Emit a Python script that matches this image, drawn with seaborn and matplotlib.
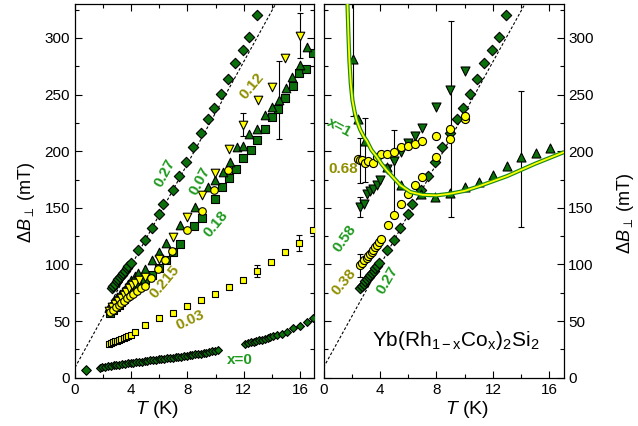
import matplotlib
matplotlib.use("Agg")
import matplotlib.pyplot as plt
import seaborn as sns
import numpy as np
from matplotlib.ticker import MultipleLocator

sns.set_theme(style="ticks")
plt.rcParams['font.family'] = ['Liberation Sans', 'DejaVu Sans']
plt.rcParams['mathtext.fontset'] = 'custom'
plt.rcParams['mathtext.rm'] = 'Liberation Sans'
plt.rcParams['mathtext.it'] = 'Liberation Sans:italic'
plt.rcParams['mathtext.bf'] = 'Liberation Sans:bold'

# ---------------- data (T in K, dB in mT) ----------------
x0_T = [0.75, 1.75, 1.95, 2.15, 2.35, 2.55, 2.75, 2.95, 3.15, 3.35, 3.55, 3.75, 3.95, 4.15, 4.35,
        4.55, 4.75, 4.95, 5.15, 5.35, 5.55, 5.75, 5.95, 6.15, 6.35, 6.55, 6.75, 6.95, 7.15, 7.35,
        7.55, 7.75, 7.95, 8.15, 8.35, 8.55, 8.75, 8.95, 9.15, 9.35, 9.55, 9.75, 9.95, 10.15,
        12.1, 12.3, 12.5, 12.7, 12.9, 13.1, 13.3, 13.5, 13.7, 13.9, 14.1, 14.4, 14.7, 15.05,
        15.5, 16.0, 16.5, 16.9]
x0_B = [6.8, 8.8, 9.2, 9.6, 10.0, 10.4, 10.8, 11.2, 11.5, 11.9, 12.2, 12.6, 13.0, 13.3, 13.6,
        13.9, 14.2, 14.6, 14.9, 15.2, 15.5, 15.8, 16.1, 16.4, 16.7, 17.0, 17.3, 17.6, 17.9, 18.2,
        18.6, 18.9, 19.3, 19.7, 20.1, 20.5, 20.9, 21.3, 21.8, 22.2, 22.7, 23.2, 23.7, 24.3,
        30.0, 30.6, 31.2, 31.8, 32.4, 33.0, 33.7, 34.4, 35.1, 35.8, 36.5, 37.5, 38.8, 40.5,
        43.5, 45.8, 49.3, 52.3]

s003_T = [2.4, 2.55, 2.7, 2.85, 3.0, 3.15, 3.3, 3.45, 3.6, 3.8, 4.0, 4.3, 4.97, 5.97, 6.99, 7.98,
          8.96, 9.97, 10.97, 11.96, 12.96, 13.95, 14.95, 15.94, 16.9]
s003_B = [29.6, 30.5, 31.3, 32.0, 32.8, 33.6, 34.3, 35.0, 35.8, 36.8, 38.0, 40.5, 46.4, 52.3, 57.3,
          63.2, 69.0, 74.3, 80.2, 86.7, 94.3, 102.0, 110.7, 119.0, 130.0]

s007_T = [2.4, 2.6, 2.8, 3.0, 3.2, 3.4, 3.6, 3.8, 4.0, 4.25, 4.5, 4.97, 5.45, 5.97, 6.47, 7.46,
          8.53, 9.48, 9.95, 10.5, 11.0, 11.5, 11.96, 12.4, 12.96, 13.5, 13.98, 14.5, 15.0, 15.47,
          16.0, 16.47]
s007_B = [62.6, 65.5, 68.5, 71.5, 74, 77, 80, 83, 86, 89.5, 92.5, 96.4, 103.7, 111, 119.3, 134.5,
          150.7, 168.3, 174.2, 181.5, 190.3, 203.5, 205, 215.3, 219.7, 232, 239.4, 245.5, 255.9,
          265.2, 276, 291.6]

s012_T = [2.45, 2.65, 2.85, 3.05, 3.25, 3.45, 3.65, 3.85, 4.05, 4.3, 4.55, 4.97, 5.97, 6.99, 7.94,
          9.0, 9.95, 10.97, 11.96, 13.03, 14.0, 14.97, 16.0]
s012_B = [59, 62, 65, 68, 70.5, 73, 76, 79, 81.5, 84, 86.5, 89, 105.2, 124.2, 141.9, 161, 180.6,
          202, 223.5, 245.3, 257, 282, 302]

s018_T = [2.5, 2.7, 2.9, 3.1, 3.3, 3.5, 3.7, 3.9, 4.1, 4.4, 4.97, 5.45, 5.97, 6.47, 6.99, 7.46,
          8.45, 9.0, 9.95, 10.47, 10.97, 11.44, 11.96, 12.49, 12.96, 13.48, 14.0, 14.47, 14.97,
          15.49, 15.94, 16.46, 16.94]
s018_B = [57, 59.5, 62, 64.5, 67, 69.5, 72, 74.5, 77, 80, 86, 91, 97, 104.3, 111, 117.8, 134,
          141.3, 158, 168.3, 176.6, 184.5, 194.2, 201.5, 210, 219.7, 230, 237, 247, 257.6, 268.7,
          272.6, 286.3]

s0215_T = [2.5, 2.7, 2.9, 3.1, 3.3, 3.5, 3.7, 3.9, 4.1, 4.4, 4.7, 4.97, 5.38, 5.88, 6.4, 6.92,
           7.94, 9.0, 9.88, 10.9]
s0215_B = [58, 60, 62, 64, 66, 68, 70, 72, 74, 76.5, 79, 80.8, 88.1, 95.8, 104.3, 111.6, 130,
           147, 165.4, 183.6]

s027_T = [2.6, 2.72, 2.84, 2.96, 3.08, 3.2, 3.32, 3.44, 3.56, 3.68, 3.8, 3.95, 4.5, 4.97, 5.45,
          5.97, 6.28, 6.94, 7.39, 7.89, 8.41, 8.93, 9.43, 9.9, 10.38, 10.9, 11.4, 11.92, 12.4, 12.96]
s027_B = [79, 81, 83, 85, 87, 88.5, 90.5, 92.5, 94.5, 96.5, 98.5, 101, 112.5, 122, 132, 144.8,
          153, 166, 177.7, 190.7, 204, 215.9, 228.2, 237.9, 250.2, 263.8, 278, 289.3, 301, 320.4]

s038_T = [2.6, 2.75, 2.9, 3.05, 3.18, 3.3, 3.42, 3.54, 3.66, 3.78, 3.9, 4.06, 4.56, 5.01, 5.5,
          5.98, 6.45, 6.98, 7.97, 8.99, 9.99]
s038_B = [99.3, 101.5, 103.7, 105.5, 107.2, 109, 111, 113, 115.4, 117.5, 119.8, 122.2, 135.1,
          144, 153, 161.9, 169.8, 177, 194.7, 211, 228.5]

s058_T = [2.6, 2.9, 3.07, 3.3, 3.54, 3.78, 4.0, 4.53, 5.01, 5.5, 5.98, 6.45, 6.98, 7.97, 8.99, 9.99]
s058_B = [150.7, 153.6, 162.5, 164.8, 166.9, 170.4, 175, 184.5, 191.8, 199, 207, 213.8, 220.6,
          239.4, 254, 271]

s068_T = [2.47, 2.6, 2.71, 2.95, 3.18, 3.54, 3.78, 4.09, 4.49, 5.01, 5.5, 5.98, 6.45, 6.98, 7.97,
          8.99, 9.99]
s068_B = [193.3, 192, 192.4, 189.4, 191.8, 189.4, 194.7, 197.7, 197.7, 199, 203.5, 205, 206.5,
          209.4, 213.8, 219.7, 231.5]

s1_T = [2.12, 2.43, 2.95, 4.49, 5.5, 6.93, 7.92, 8.99, 10.0, 11.0, 12.0, 13.02, 14.0, 15.03, 16.03]
s1_B = [281.4, 228.5, 209.4, 186, 169.8, 162.5, 160, 163, 168.3, 172.7, 178.6, 186.8, 194.7,
        198.2, 202.6]

fit_T = [1.69, 1.76, 1.83, 1.93, 2.05, 2.2, 2.36, 2.6, 2.85, 3.07, 3.4, 3.78, 4.1, 4.49, 5.0,
         5.44, 6.15, 7.0, 8.0, 9.0, 10.0, 11.0, 12.0, 13.0, 14.0, 15.0, 16.0, 17.0]
fit_B = [333, 305, 281, 260, 245, 235, 227, 219, 213, 209, 201, 195, 189, 183, 176, 170, 164,
         161.5, 161, 162.5, 165, 169, 173.5, 178, 183.5, 189, 194, 199]

line_T = [0.0, 15.0]
line_B = [9.0, 346.5]

errL_T = [12.96, 15.94, 11.96, 16.0, 14.5]
errL_B = [94.3, 119.0, 223.5, 302.0, 245.5]
errL_e = [5, 7, 10, 20, 34.5]

errR_T = [2.12, 2.95, 2.6, 5.0, 9.0, 14.0, 2.6, 2.6]
errR_B = [281.0, 201.0, 192.0, 181.0, 228.5, 193.0, 150.7, 99.3]
errR_e = [50, 28, 20, 38, 86.5, 60, 9, 10]

labelsL = [("0.27", 6.4, 181, 62, "g"), ("0.07", 8.9, 174, 62, "g"), ("0.12", 12.56, 258, 50, "y"),
           ("0.18", 10.0, 136, 50, "g"), ("0.215", 6.4, 84.6, 50, "y"), ("0.03", 8.17, 50.8, 25, "y"),
           ("x=0", 11.7, 15.6, 0, "g")]
labelsR = [("x=1", 1.1, 221, -28, "g"), ("0.68", 1.41, 184.5, 0, "y"), ("0.58", 1.53, 122.8, 55, "g"),
           ("0.38", 1.41, 84.6, 50, "y"), ("0.27", 4.49, 86, 60, "g")]

# ---------------- style ----------------
GREEN = "#0b700b"
YELLOW = "#ffff00"
TXT = {"g": "#1f9a1f", "y": "#8f8f00"}

fig = plt.figure(figsize=(6.38, 4.26), dpi=100)
axL = fig.add_axes([75/638, 1-377.7/426, 239/638, 373.7/426])
axR = fig.add_axes([323.5/638, 1-377.7/426, 240/638, 373.7/426])

def sc(ax, T, B, marker, s, color, z=3):
    sns.scatterplot(x=T, y=B, ax=ax, marker=marker, s=s, color=color, edgecolor="black",
                    linewidth=0.8, zorder=z, legend=False)

for ax in (axL, axR):
    sns.lineplot(x=line_T, y=line_B, ax=ax, color="black", lw=0.8, dashes=False,
                 linestyle=(0, (2.5, 1.8)), zorder=2)

# left panel
axL.errorbar(errL_T, errL_B, yerr=errL_e, fmt="none", ecolor="black", elinewidth=0.8,
             capsize=2.5, capthick=0.8, zorder=2.5)
sc(axL, x0_T[:1], x0_B[:1], "D", 24, GREEN)
sc(axL, x0_T[1:], x0_B[1:], "D", 16, GREEN)
sc(axL, s003_T, s003_B, "s", 22, YELLOW)
sc(axL, s027_T, s027_B, "D", 28, GREEN)
sc(axL, s018_T, s018_B, "s", 26, GREEN)
sc(axL, s007_T, s007_B, "^", 38, GREEN)
sc(axL, s012_T, s012_B, "v", 38, YELLOW)
sc(axL, s0215_T, s0215_B, "o", 30, YELLOW)

# right panel
axR.errorbar(errR_T, errR_B, yerr=errR_e, fmt="none", ecolor="black", elinewidth=0.8,
             capsize=2.5, capthick=0.8, zorder=2.5)
sc(axR, s027_T, s027_B, "D", 28, GREEN)
sc(axR, s058_T, s058_B, "v", 42, GREEN)
sc(axR, s1_T, s1_B, "^", 42, GREEN)
sc(axR, s038_T, s038_B, "o", 34, YELLOW)
sc(axR, s068_T, s068_B, "o", 34, YELLOW)
sns.lineplot(x=fit_T, y=fit_B, ax=axR, color="#1a8a1a", lw=3.0, zorder=5, sort=False)
sns.lineplot(x=fit_T, y=fit_B, ax=axR, color=YELLOW, lw=1.3, zorder=6, sort=False)

for ax, labs in ((axL, labelsL), (axR, labelsR)):
    for txt, tx, ty, rot, c in labs:
        ax.text(tx, ty, txt, color=TXT[c], fontsize=11, fontweight="bold", rotation=rot,
                ha="center", va="center", rotation_mode="anchor", zorder=7)

axR.text(9.35, 33, r"Yb(Rh$_{\mathrm{1-x}}$Co$_{\mathrm{x}}$)$_{\mathrm{2}}$Si$_{\mathrm{2}}$",
         fontsize=15, ha="center", va="center", color="black", zorder=7)

for ax in (axL, axR):
    ax.set_xlim(0, 17)
    ax.set_ylim(0, 330)
    ax.xaxis.set_major_locator(MultipleLocator(4))
    ax.xaxis.set_minor_locator(MultipleLocator(2))
    ax.yaxis.set_major_locator(MultipleLocator(50))
    ax.yaxis.set_minor_locator(MultipleLocator(25))
    ax.tick_params(which="both", direction="in", top=True, bottom=True, left=True, right=True,
                   colors="black", labelsize=11, width=0.8)
    ax.tick_params(which="major", length=5)
    ax.tick_params(which="minor", length=3)
    for sp in ax.spines.values():
        sp.set_color("black")
        sp.set_linewidth(0.9)
    ax.set_facecolor("white")
    ax.set_xlabel(r"$\mathit{T}$ (K)", fontsize=14, color="black")
    ax.set_ylabel(r"$\mathit{ΔB}_{\perp}$ (mT)", fontsize=13, color="black")

axL.tick_params(labelleft=True, labelright=False)
axR.tick_params(labelleft=False, labelright=True)
axR.yaxis.set_label_position("right")
axL.xaxis.set_label_coords(0.343, -0.058)
axR.xaxis.set_label_coords(0.598, -0.058)
axL.yaxis.set_label_coords(-0.16, 0.47)
axR.yaxis.set_label_coords(1.215, 0.44)

fig.savefig("out.png", dpi=100, facecolor="white")
